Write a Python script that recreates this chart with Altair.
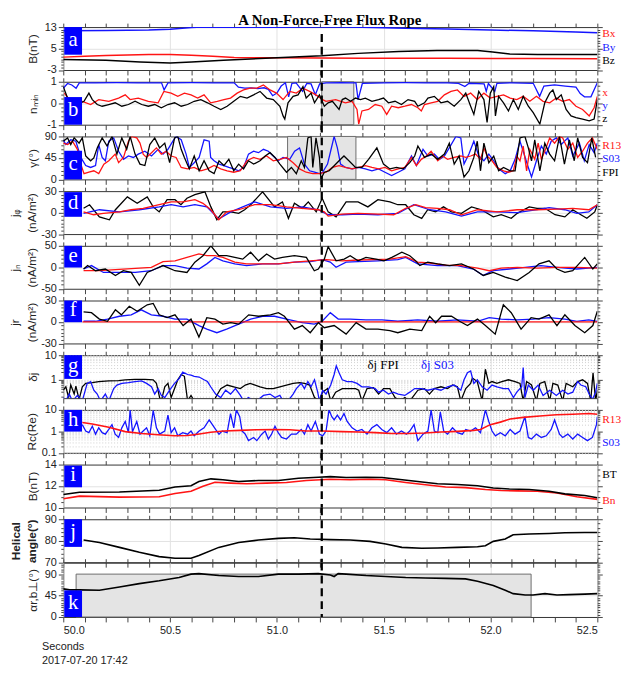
import altair as alt
import pandas as pd

TITLE = "A Non-Force-Free Flux Rope"
DATE_LABEL = "2017-07-20 17:42"
X_TITLE = "Seconds"
XTICKS = [50.0, 50.1, 50.2, 50.3, 50.4, 50.5, 50.6, 50.7, 50.8, 50.9, 51.0, 51.1, 51.2,
          51.3, 51.4, 51.5, 51.6, 51.7, 51.8, 51.9, 52.0, 52.1, 52.2, 52.3, 52.4, 52.5]
X_DOMAIN = [50.0, 52.5]
DASH_T = 51.21

SHADE_B = [(51.21, 51.36, -1, 1)]
SHADE_C = [(51.05, 51.37, 0, 90)]
SHADE_K = [(50.06, 52.19, 0, 90)]

# ---- panel a : B (nT)
A_BX = [(50.0, 1.8), (50.1, 2.1), (50.2, 2.4), (50.3, 2.6), (50.4, 2.8), (50.5, 2.8), (50.6, 2.5),
        (50.7, 2.1), (50.8, 1.7), (50.9, 1.6), (51.0, 1.6), (51.2, 1.5), (51.4, 1.4), (51.6, 1.4),
        (51.8, 1.4), (52.0, 1.3), (52.2, 1.3), (52.5, 1.2)]
A_BY = [(50.0, 11.6), (50.2, 11.7), (50.4, 11.9), (50.5, 12.2), (50.6, 12.8), (50.65, 13.0), (50.8, 12.9),
        (51.0, 12.9), (51.2, 13.0), (51.4, 12.9), (51.6, 12.6), (51.8, 12.3), (52.0, 11.9), (52.2, 11.6),
        (52.4, 11.2), (52.5, 10.9)]
A_BZ = [(50.0, 0.9), (50.2, 0.6), (50.36, 0.0), (50.5, -0.4), (50.6, 0.0), (50.75, 0.6), (51.0, 1.6),
        (51.21, 2.3), (51.38, 3.2), (51.57, 3.9), (51.75, 4.3), (51.94, 4.3), (52.01, 3.7), (52.09, 3.0),
        (52.22, 2.8), (52.5, 2.8)]

# ---- panel b : n_min
B_BLUE = [(50.0, 0.7), (50.02, 0.92), (50.04, 0.85), (50.06, 0.7), (50.075, 0.95), (50.15, 0.95), (50.25, 0.96),
          (50.35, 0.95), (50.46, 0.95), (50.472, 0.62), (50.49, 0.95), (50.6, 0.96), (50.7, 0.95), (50.8, 0.95),
          (50.82, 0.75), (50.85, 0.7), (50.88, 0.72), (50.91, 0.68), (50.94, 0.72), (50.96, 0.65), (50.98, 0.35),
          (51.0, 0.47), (51.02, 0.8), (51.04, 0.95), (51.055, 0.3), (51.07, 0.92), (51.09, 0.95), (51.12, 0.55),
          (51.14, 0.92), (51.16, 0.9), (51.18, 0.4), (51.2, 0.9), (51.23, 0.95), (51.3, 0.96), (51.37, 0.95),
          (51.38, 0.17), (51.4, 0.92), (51.5, 0.95), (51.6, 0.96), (51.7, 0.95), (51.8, 0.95), (51.85, 0.92),
          (51.88, 0.78), (51.9, 0.93), (51.97, 0.9), (51.98, 0.55), (51.99, 0.92), (52.02, 0.55), (52.03, 0.93),
          (52.1, 0.95), (52.2, 0.93), (52.23, 0.32), (52.25, 0.8), (52.3, 0.85), (52.35, 0.8), (52.4, 0.75),
          (52.42, 0.45), (52.44, 0.3), (52.47, 0.3), (52.5, 0.95)]
B_RED = [(50.005, 0.47), (50.028, 0.17), (50.059, 0.02), (50.089, 0.09), (50.128, -0.06), (50.166, 0.17),
         (50.213, 0.09), (50.259, 0.24), (50.29, 0.39), (50.313, 0.17), (50.351, 0.24), (50.398, 0.09),
         (50.444, 0.02), (50.471, 0.55), (50.505, 0.47), (50.536, 0.32), (50.567, 0.47), (50.598, 0.39),
         (50.629, 0.24), (50.659, 0.39), (50.69, 0.02), (50.721, 0.09), (50.752, 0.17), (50.783, 0.24),
         (50.814, 0.47), (50.844, 0.62), (50.875, 0.7), (50.906, 0.7), (50.937, 0.85), (50.968, 0.62),
         (50.998, 0.47), (51.029, 0.17), (51.06, 0.55), (51.091, 0.47), (51.122, 0.7), (51.153, 0.55),
         (51.183, 0.39), (51.214, 0.17), (51.23, 0.09), (51.275, 0.17), (51.321, 0.02), (51.352, 0.09),
         (51.375, -0.29), (51.383, -0.97), (51.398, -0.36), (51.429, -0.29), (51.46, -0.06), (51.491, -0.14),
         (51.514, -0.52), (51.537, -0.14), (51.568, -0.21), (51.599, -0.14), (51.63, -0.06), (51.66, -0.21),
         (51.676, -0.36), (51.691, -0.06), (51.722, 0.02), (51.753, 0.09), (51.784, 0.39), (51.815, 0.55),
         (51.845, 0.62), (51.876, 0.32), (51.907, 0.47), (51.938, 0.17), (51.969, 0.47), (51.999, 0.24),
         (52.03, 0.32), (52.061, 0.39), (52.092, 0.24), (52.123, 0.17), (52.153, 0.32), (52.184, 0.09),
         (52.215, 0.32), (52.246, 0.09), (52.277, 0.02), (52.308, 0.24), (52.338, 0.09), (52.369, 0.17),
         (52.4, -0.14), (52.431, -0.29), (52.462, -0.59), (52.485, -0.21), (52.5, 0.32)]
B_BLACK = [(50.0, 0.77), (50.02, 0.24), (50.035, 0.02), (50.066, -0.06), (50.097, 0.09), (50.12, 0.47),
           (50.136, 0.17), (50.159, -0.06), (50.182, -0.14), (50.213, -0.06), (50.243, 0.02), (50.274, -0.14),
           (50.305, -0.06), (50.336, 0.09), (50.367, -0.06), (50.398, -0.14), (50.428, -0.06), (50.459, -0.21),
           (50.49, -0.06), (50.521, 0.02), (50.552, -0.14), (50.582, -0.06), (50.613, 0.09), (50.644, 0.17),
           (50.675, 0.02), (50.706, -0.14), (50.737, -0.29), (50.767, -0.14), (50.798, 0.09), (50.829, 0.32),
           (50.86, 0.24), (50.891, 0.39), (50.921, 0.55), (50.952, 0.24), (50.983, 0.17), (51.014, -0.14),
           (51.029, -0.59), (51.037, -0.74), (51.052, 0.02), (51.076, 0.32), (51.099, 0.39), (51.122, 0.77),
           (51.137, 0.24), (51.16, 0.47), (51.176, 0.02), (51.199, 0.39), (51.222, -0.14), (51.24, 0.02),
           (51.26, 0.09), (51.291, -0.29), (51.306, 0.17), (51.321, 0.24), (51.345, 0.09), (51.368, 0.24),
           (51.391, 0.17), (51.414, 0.24), (51.445, 0.09), (51.476, 0.17), (51.499, 0.24), (51.522, 0.02),
           (51.553, 0.09), (51.583, -0.06), (51.614, 0.17), (51.645, 0.09), (51.66, -0.14), (51.691, 0.02),
           (51.707, 0.24), (51.737, 0.32), (51.768, 0.02), (51.799, 0.09), (51.83, -0.14), (51.861, 0.17),
           (51.884, 0.47), (51.907, -0.14), (51.922, -0.52), (51.945, 0.55), (51.969, 0.17), (51.984, -0.89),
           (51.999, 0.47), (52.015, 0.77), (52.023, -0.59), (52.038, 0.32), (52.061, 0.02), (52.084, -0.36),
           (52.107, 0.17), (52.13, -0.29), (52.153, 0.32), (52.177, -0.14), (52.2, -0.44), (52.231, -0.97),
           (52.254, 0.02), (52.277, 0.47), (52.292, 0.62), (52.308, 0.17), (52.331, 0.39), (52.354, -0.29),
           (52.377, -0.59), (52.4, -0.67), (52.431, -0.74), (52.462, -0.82), (52.485, -0.74), (52.5, 0.17)]

# ---- panel c : gamma (deg)
C_BLACK = [(50.0, 80), (50.02, 87), (50.035, 73), (50.051, 87), (50.074, 76), (50.089, 87), (50.105, 49),
           (50.128, 39), (50.143, 45), (50.159, 66), (50.182, 87), (50.205, 70), (50.228, 90), (50.251, 53),
           (50.274, 87), (50.297, 63), (50.313, 90), (50.336, 53), (50.359, 32), (50.382, 29), (50.405, 73),
           (50.428, 87), (50.451, 66), (50.475, 76), (50.498, 35), (50.521, 87), (50.536, 90), (50.552, 63),
           (50.567, 46), (50.59, 22), (50.613, 49), (50.636, 18), (50.659, 39), (50.683, 18), (50.706, 12),
           (50.729, 39), (50.752, 29), (50.775, 42), (50.798, 18), (50.821, 32), (50.844, 22), (50.867, 39),
           (50.891, 32), (50.921, 39), (50.945, 49), (50.968, 56), (50.991, 46), (51.014, 32), (51.045, 15),
           (51.068, 25), (51.091, 12), (51.114, 39), (51.129, 25), (51.145, 87), (51.16, 90), (51.168, 25),
           (51.183, 87), (51.199, 46), (51.206, 1), (51.222, 15), (51.245, 18), (51.26, 25), (51.291, 39),
           (51.314, 49), (51.337, 39), (51.368, 25), (51.398, 25), (51.429, 42), (51.468, 66), (51.499, 32),
           (51.529, 22), (51.56, 25), (51.591, 22), (51.622, 35), (51.645, 49), (51.66, 70), (51.691, 46),
           (51.722, 53), (51.753, 42), (51.784, 53), (51.807, 76), (51.83, 32), (51.853, 49), (51.876, 5),
           (51.899, 18), (51.922, 46), (51.938, 80), (51.953, 18), (51.969, 76), (51.992, 35), (52.015, 49),
           (52.038, 18), (52.061, 25), (52.092, 18), (52.115, 18), (52.138, 87), (52.161, 90), (52.177, 66),
           (52.192, 39), (52.207, 83), (52.231, 18), (52.254, 76), (52.277, 53), (52.3, 39), (52.323, 90),
           (52.346, 32), (52.369, 83), (52.392, 39), (52.408, 87), (52.431, 46), (52.454, 35), (52.474, 87),
           (52.492, 46)]
C_RED = [(50.0, 76), (50.02, 73), (50.043, 80), (50.066, 63), (50.082, 32), (50.097, 12), (50.12, 15),
         (50.143, 18), (50.166, 12), (50.19, 32), (50.213, 39), (50.243, 53), (50.259, 35), (50.282, 46),
         (50.305, 80), (50.32, 90), (50.344, 87), (50.359, 76), (50.374, 53), (50.39, 46), (50.413, 56),
         (50.436, 66), (50.459, 53), (50.482, 59), (50.505, 49), (50.528, 46), (50.552, 25), (50.582, 22),
         (50.613, 25), (50.644, 18), (50.675, 22), (50.706, 29), (50.737, 22), (50.767, 18), (50.798, 15),
         (50.829, 18), (50.86, 39), (50.891, 46), (50.921, 42), (50.952, 49), (50.983, 39), (51.014, 42),
         (51.045, 46), (51.076, 35), (51.106, 22), (51.137, 15), (51.168, 12), (51.199, 12), (51.23, 15),
         (51.26, 25), (51.291, 29), (51.321, 25), (51.352, 22), (51.383, 25), (51.414, 29), (51.445, 25),
         (51.476, 22), (51.506, 25), (51.537, 18), (51.568, 22), (51.599, 25), (51.63, 46), (51.653, 29),
         (51.676, 42), (51.699, 49), (51.722, 59), (51.753, 39), (51.776, 49), (51.799, 42), (51.83, 46),
         (51.861, 49), (51.884, 46), (51.907, 49), (51.93, 53), (51.953, 42), (51.969, 66), (51.984, 49),
         (52.007, 39), (52.03, 25), (52.061, 18), (52.084, 15), (52.107, 18), (52.123, 49), (52.138, 39),
         (52.153, 70), (52.169, 18), (52.184, 63), (52.207, 42), (52.223, 76), (52.238, 42), (52.254, 59),
         (52.277, 87), (52.3, 76), (52.323, 90), (52.338, 87), (52.362, 63), (52.385, 76), (52.408, 46),
         (52.431, 59), (52.454, 76), (52.477, 87), (52.5, 63)]
C_BLUE = [(50.0, 83), (50.012, 73), (50.035, 83), (50.059, 80), (50.082, 46), (50.105, 29), (50.128, 25),
          (50.151, 29), (50.166, 73), (50.182, 46), (50.197, 39), (50.213, 80), (50.236, 87), (50.259, 59),
          (50.282, 42), (50.305, 49), (50.328, 46), (50.351, 53), (50.382, 59), (50.413, 49), (50.444, 63),
          (50.467, 53), (50.49, 63), (50.513, 80), (50.528, 90), (50.552, 83), (50.575, 53), (50.59, 25),
          (50.613, 35), (50.636, 46), (50.659, 83), (50.683, 80), (50.69, 46), (50.706, 39), (50.729, 32),
          (50.752, 29), (50.775, 25), (50.798, 22), (50.821, 18), (50.844, 25), (50.867, 53), (50.891, 59),
          (50.914, 56), (50.937, 63), (50.96, 59), (50.983, 49), (51.006, 39), (51.029, 46), (51.06, 42),
          (51.083, 59), (51.106, 66), (51.129, 32), (51.153, 18), (51.176, 15), (51.199, 12), (51.214, 15),
          (51.237, 32), (51.252, 60), (51.268, 90), (51.283, 66), (51.298, 32), (51.321, 25), (51.352, 22),
          (51.383, 25), (51.414, 22), (51.445, 18), (51.476, 22), (51.506, 15), (51.537, 8), (51.568, 15),
          (51.599, 22), (51.63, 49), (51.653, 29), (51.684, 63), (51.707, 49), (51.737, 53), (51.761, 42),
          (51.784, 49), (51.807, 66), (51.838, 90), (51.861, 87), (51.876, 32), (51.899, 53), (51.922, 80),
          (51.945, 49), (51.969, 39), (51.992, 53), (52.015, 39), (52.038, 22), (52.069, 12), (52.092, 18),
          (52.115, 42), (52.138, 80), (52.153, 59), (52.177, 25), (52.192, 5), (52.215, 39), (52.238, 70),
          (52.261, 53), (52.284, 80), (52.308, 87), (52.331, 73), (52.362, 87), (52.385, 49), (52.416, 76),
          (52.439, 39), (52.462, 73), (52.485, 56), (52.5, 76)]

# ---- panel d : j_phi
D_BLACK = [(50.095, 6), (50.123, 11), (50.169, -6), (50.216, -10), (50.244, 4), (50.3, 22), (50.346, 13),
           (50.393, 22), (50.421, 8), (50.449, 1), (50.486, 18), (50.523, 18), (50.551, 11), (50.579, 20),
           (50.616, 25), (50.663, 29), (50.691, 8), (50.719, -10), (50.747, 1), (50.784, 1), (50.821, -1),
           (50.849, 4), (50.877, 11), (50.933, 29), (50.989, 8), (51.026, 15), (51.054, -8), (51.082, 13),
           (51.119, 6), (51.147, 15), (51.184, 1), (51.212, 20), (51.24, 1), (51.277, -6), (51.324, 15),
           (51.38, 15), (51.426, 8), (51.473, 18), (51.529, 15), (51.566, 11), (51.603, 11), (51.641, -3),
           (51.678, -8), (51.706, 4), (51.743, 1), (51.78, 8), (51.817, 1), (51.864, -1), (51.911, 8),
           (51.957, 4), (52.013, -6), (52.05, -3), (52.097, -8), (52.125, -1), (52.181, 8), (52.218, 6),
           (52.255, 6), (52.302, -3), (52.348, -6), (52.385, 4), (52.423, -3), (52.451, -8), (52.488, 1),
           (52.5, 11)]
D_RED = [(50.095, 1), (50.142, -3), (50.188, -1), (50.263, 1), (50.318, 4), (50.374, 6), (50.449, 11),
         (50.505, 15), (50.561, 15), (50.616, 18), (50.654, 13), (50.691, 4), (50.728, -10), (50.765, 1),
         (50.821, 4), (50.896, 11), (50.97, 11), (51.045, 8), (51.119, 6), (51.194, 4), (51.222, 1),
         (51.24, -5), (51.305, -2), (51.38, -1), (51.473, -2), (51.547, -3), (51.603, 6), (51.65, 11),
         (51.696, 7), (51.752, 6), (51.808, 4), (51.864, -3), (51.939, 4), (52.032, 1), (52.125, 4),
         (52.218, 4), (52.311, 5), (52.385, 6), (52.46, 4), (52.5, 11)]
D_BLUE = [(50.095, -1), (50.169, 4), (50.263, 1), (50.356, 4), (50.449, 8), (50.505, 11), (50.561, 8),
          (50.616, 11), (50.672, 8), (50.728, -9), (50.784, 1), (50.896, 15), (50.97, 8), (51.045, 6),
          (51.119, 8), (51.194, 4), (51.24, -3), (51.305, -3), (51.38, -2), (51.473, -3), (51.566, -1),
          (51.641, 11), (51.715, 4), (51.79, 1), (51.864, -5), (51.939, 1), (52.032, 1), (52.125, 0),
          (52.218, 4), (52.274, 7), (52.348, 4), (52.404, -1), (52.46, 1), (52.5, 11)]

# ---- panel e : j_n
E_BLACK = [(50.095, -4), (50.114, 4), (50.151, -8), (50.197, -4), (50.244, -19), (50.281, -8), (50.318, -12),
           (50.356, -42), (50.393, -12), (50.43, -4), (50.467, 4), (50.523, -8), (50.579, -12), (50.616, 12),
           (50.654, 27), (50.691, 50), (50.728, 27), (50.765, 27), (50.803, 23), (50.84, 19), (50.877, 35),
           (50.914, 15), (50.952, 31), (50.989, 19), (51.026, 23), (51.082, 27), (51.138, 23), (51.175, -8),
           (51.194, -4), (51.222, 19), (51.24, 48), (51.277, 15), (51.315, 19), (51.343, 27), (51.38, 15),
           (51.417, 23), (51.464, 19), (51.501, 15), (51.538, 23), (51.585, 35), (51.622, 27), (51.65, 15),
           (51.669, 4), (51.706, 12), (51.752, 8), (51.808, 4), (51.864, 8), (51.92, -4), (51.966, -19),
           (52.013, -12), (52.069, -23), (52.125, -31), (52.181, -12), (52.227, 8), (52.274, 15), (52.311, -4),
           (52.348, -12), (52.385, -8), (52.441, 23), (52.479, -4), (52.5, 8)]
E_RED = [(50.095, -8), (50.169, -8), (50.263, -5), (50.356, -2), (50.412, 0), (50.467, 13), (50.523, 15),
         (50.579, 23), (50.635, 31), (50.672, 27), (50.71, 27), (50.747, 23), (50.803, 12), (50.858, 8),
         (50.933, 8), (51.007, 8), (51.082, 12), (51.156, 15), (51.231, 18), (51.305, 15), (51.38, 17),
         (51.454, 18), (51.529, 19), (51.603, 25), (51.659, 12), (51.715, 10), (51.79, 5), (51.864, 4),
         (51.939, -2), (51.994, -8), (52.05, -2), (52.125, 0), (52.218, -2), (52.311, 0), (52.404, 0),
         (52.5, -2)]
E_BLUE = [(50.095, -4), (50.132, 4), (50.188, -12), (50.263, -12), (50.337, -12), (50.412, -8), (50.467, 4),
          (50.523, 4), (50.579, -2), (50.635, -4), (50.672, 8), (50.71, 23), (50.747, 15), (50.803, 8),
          (50.858, 4), (50.933, 8), (51.007, 8), (51.082, 12), (51.156, 13), (51.212, 18), (51.25, 12),
          (51.277, 0), (51.324, 12), (51.38, 13), (51.473, 15), (51.566, 18), (51.603, 23), (51.659, 8),
          (51.752, 4), (51.845, 4), (51.92, -4), (51.966, -19), (52.013, -8), (52.088, -4), (52.162, 0),
          (52.236, 4), (52.311, 0), (52.404, -4), (52.5, 0)]

# ---- panel f : j_r
F_BLACK = [(50.095, 14), (50.132, 13), (50.169, 4), (50.207, 1), (50.244, 17), (50.272, 10), (50.309, 22),
           (50.346, 15), (50.393, 24), (50.421, 26), (50.449, 10), (50.486, 6), (50.523, 10), (50.561, -5),
           (50.598, 4), (50.635, -21), (50.672, 6), (50.71, 4), (50.747, -3), (50.784, -1), (50.821, -3),
           (50.868, 10), (50.914, 8), (50.97, 10), (51.007, 13), (51.035, 8), (51.082, -10), (51.119, -5),
           (51.156, -15), (51.194, -1), (51.222, -8), (51.268, -5), (51.324, -17), (51.371, -1), (51.417, -10),
           (51.473, -10), (51.529, -12), (51.566, -15), (51.622, -10), (51.678, -12), (51.715, 8), (51.743, -1),
           (51.771, 8), (51.817, 8), (51.855, 1), (51.892, -5), (51.939, 4), (51.976, -5), (52.022, -17),
           (52.06, 24), (52.097, 13), (52.143, -10), (52.19, 6), (52.227, 4), (52.274, 10), (52.311, -5),
           (52.348, 10), (52.395, -5), (52.441, -15), (52.479, -5), (52.5, 15)]
F_BLUE = [(50.095, 1), (50.151, 1), (50.207, 4), (50.263, 8), (50.318, 10), (50.365, 17), (50.412, 10),
          (50.467, 8), (50.523, 4), (50.579, 4), (50.635, -5), (50.672, -10), (50.719, -15), (50.765, -10),
          (50.821, -3), (50.877, 4), (50.933, 8), (50.989, 8), (51.045, 4), (51.119, -1), (51.175, -3),
          (51.212, 1), (51.25, 13), (51.287, 4), (51.343, 4), (51.417, 3), (51.492, 3), (51.566, 1),
          (51.659, 3), (51.752, 1), (51.845, 3), (51.939, 1), (51.994, 6), (52.05, 4), (52.125, 3),
          (52.199, 4), (52.274, 6), (52.348, 4), (52.404, 1), (52.46, 3), (52.5, 1)]
F_RED = [(50.09, 0), (52.5, 0)]

# ---- panel g : delta j (log)
G_BLACK = [(50.0, 0.36), (50.012, 0.5), (50.025, 0.18), (50.035, 0.59), (50.051, 0.25), (50.059, 0.53),
           (50.074, 0.15), (50.089, 0.5), (50.105, 0.69), (50.136, 0.74), (50.166, 0.82), (50.213, 0.87),
           (50.259, 0.9), (50.29, 0.97), (50.336, 1.0), (50.382, 1.0), (50.421, 0.97), (50.436, 0.69),
           (50.451, 0.18), (50.459, 0.13), (50.475, 0.5), (50.49, 0.69), (50.505, 0.18), (50.521, 0.42),
           (50.536, 0.97), (50.552, 1.6), (50.567, 1.35), (50.582, 0.13), (50.598, 0.22), (50.613, 0.13),
           (50.629, 0.1), (50.706, 0.1), (50.713, 0.18), (50.737, 0.42), (50.767, 0.59), (50.798, 0.5),
           (50.829, 0.42), (50.852, 0.59), (50.875, 0.69), (50.898, 0.59), (50.921, 0.5), (50.952, 0.42),
           (50.983, 0.42), (51.014, 0.5), (51.045, 0.59), (51.076, 0.69), (51.106, 0.74), (51.129, 0.69),
           (51.153, 0.59), (51.176, 0.18), (51.199, 0.13), (51.214, 0.3), (51.237, 0.42), (51.252, 0.13),
           (51.275, 0.3), (51.306, 0.42), (51.337, 0.42), (51.368, 0.42), (51.383, 0.36), (51.398, 0.13),
           (51.422, 0.42), (51.452, 0.46), (51.476, 0.25), (51.499, 0.42), (51.529, 0.42), (51.553, 0.18),
           (51.576, 0.13), (51.599, 0.18), (51.622, 0.13), (51.66, 0.36), (51.691, 0.42), (51.714, 0.25),
           (51.737, 0.42), (51.768, 0.5), (51.799, 0.42), (51.822, 0.59), (51.845, 0.5), (51.861, 0.13),
           (51.884, 0.42), (51.907, 0.69), (51.915, 1.14), (51.938, 0.82), (51.961, 0.13), (51.976, 2.63),
           (51.992, 0.69), (52.007, 0.82), (52.03, 0.69), (52.053, 0.82), (52.084, 0.97), (52.115, 0.82),
           (52.138, 0.69), (52.153, 0.13), (52.169, 0.82), (52.192, 0.59), (52.215, 0.13), (52.231, 0.69),
           (52.254, 0.82), (52.277, 0.13), (52.292, 0.69), (52.315, 0.59), (52.338, 0.13), (52.354, 0.69),
           (52.385, 0.5), (52.408, 0.82), (52.431, 0.97), (52.454, 0.69), (52.469, 0.13), (52.48, 1.89),
           (52.492, 0.13), (52.5, 0.36)]
G_BLUE = [(50.0, 0.18), (50.012, 0.13), (50.028, 0.25), (50.043, 0.13), (50.066, 0.22), (50.089, 0.13),
          (50.112, 0.69), (50.128, 0.82), (50.143, 0.36), (50.159, 0.25), (50.174, 0.13), (50.197, 0.25),
          (50.213, 0.13), (50.236, 0.42), (50.251, 0.59), (50.274, 0.69), (50.305, 0.74), (50.336, 0.82),
          (50.367, 0.87), (50.39, 0.69), (50.413, 0.5), (50.428, 0.25), (50.444, 0.42), (50.459, 0.22),
          (50.475, 0.18), (50.498, 0.36), (50.521, 0.69), (50.544, 1.14), (50.559, 2.0), (50.582, 1.6),
          (50.598, 1.5), (50.613, 1.35), (50.636, 1.26), (50.659, 0.97), (50.675, 0.82), (50.69, 0.5),
          (50.713, 0.25), (50.737, 0.18), (50.76, 0.36), (50.783, 0.25), (50.806, 0.42), (50.829, 0.22),
          (50.844, 0.13), (50.867, 0.18), (50.891, 0.13), (50.914, 0.15), (50.937, 0.22), (50.968, 0.25),
          (50.991, 0.18), (51.014, 0.22), (51.029, 0.13), (51.052, 0.13), (51.076, 0.25), (51.091, 0.42),
          (51.114, 0.69), (51.129, 0.42), (51.145, 0.82), (51.16, 0.5), (51.176, 0.97), (51.191, 0.3),
          (51.199, 0.13), (51.214, 0.36), (51.23, 0.25), (51.252, 0.59), (51.268, 1.6), (51.278, 3.67),
          (51.291, 1.89), (51.306, 0.97), (51.329, 0.82), (51.352, 0.82), (51.375, 0.69), (51.398, 0.5),
          (51.429, 0.5), (51.46, 0.42), (51.476, 0.3), (51.499, 0.36), (51.522, 0.25), (51.545, 0.3),
          (51.568, 0.25), (51.599, 0.22), (51.622, 0.3), (51.645, 0.42), (51.676, 0.42), (51.707, 0.36),
          (51.737, 0.42), (51.768, 0.36), (51.799, 0.5), (51.83, 0.59), (51.861, 0.36), (51.876, 0.97),
          (51.892, 1.89), (51.907, 2.23), (51.922, 0.69), (51.938, 0.97), (51.961, 0.5), (51.984, 0.36),
          (52.007, 0.59), (52.03, 0.5), (52.061, 0.42), (52.084, 0.42), (52.107, 0.18), (52.123, 0.3),
          (52.146, 0.5), (52.153, 3.1), (52.161, 0.18), (52.177, 0.59), (52.2, 0.36), (52.223, 0.59),
          (52.246, 0.22), (52.277, 0.36), (52.308, 0.22), (52.338, 0.36), (52.362, 0.25), (52.385, 0.3),
          (52.408, 0.82), (52.423, 0.59), (52.446, 0.5), (52.462, 0.25), (52.477, 0.15), (52.492, 0.3),
          (52.5, 0.69)]

# ---- panel h : Rc (log)
H_RED = [(50.089, 2.6), (50.136, 2.19), (50.213, 1.56), (50.29, 0.97), (50.367, 0.79), (50.444, 0.69),
         (50.521, 0.62), (50.582, 0.64), (50.629, 0.74), (50.69, 0.9), (50.752, 1.03), (50.829, 1.11),
         (50.906, 1.19), (50.983, 1.23), (51.06, 1.19), (51.137, 1.03), (51.214, 1.03), (51.306, 0.97),
         (51.383, 0.93), (51.46, 0.87), (51.537, 0.79), (51.614, 0.79), (51.691, 0.84), (51.768, 0.93),
         (51.845, 1.0), (51.922, 1.11), (51.953, 1.23), (51.999, 2.05), (52.046, 2.69), (52.092, 3.78),
         (52.153, 4.49), (52.231, 5.15), (52.308, 5.9), (52.385, 6.3), (52.462, 6.75), (52.5, 6.3)]
H_BLUE = [(50.089, 2.05), (50.105, 1.03), (50.12, 0.87), (50.136, 1.73), (50.151, 0.74), (50.166, 1.46),
          (50.182, 0.87), (50.197, 0.74), (50.213, 1.23), (50.228, 2.05), (50.243, 0.74), (50.259, 0.52),
          (50.274, 1.46), (50.29, 2.88), (50.305, 0.87), (50.313, 10.0), (50.324, 0.97), (50.344, 2.88),
          (50.359, 0.74), (50.374, 1.03), (50.39, 1.46), (50.405, 0.62), (50.421, 9.5), (50.436, 1.46),
          (50.451, 0.74), (50.475, 1.03), (50.49, 5.7), (50.505, 0.87), (50.521, 1.46), (50.536, 0.62),
          (50.559, 0.87), (50.582, 0.74), (50.598, 1.03), (50.613, 0.62), (50.636, 1.03), (50.659, 1.46),
          (50.683, 3.4), (50.698, 2.05), (50.713, 1.23), (50.729, 0.74), (50.744, 1.03), (50.767, 0.87),
          (50.783, 6.75), (50.798, 1.46), (50.81, 10.0), (50.826, 4.8), (50.837, 1.03), (50.852, 0.74),
          (50.867, 0.37), (50.891, 0.52), (50.906, 0.37), (50.929, 0.74), (50.945, 1.03), (50.96, 0.44),
          (50.975, 0.74), (50.991, 1.73), (51.006, 0.87), (51.022, 0.52), (51.045, 0.44), (51.068, 0.74),
          (51.091, 0.74), (51.114, 1.23), (51.129, 0.74), (51.145, 2.05), (51.16, 1.03), (51.18, 2.88),
          (51.199, 0.74), (51.214, 0.62), (51.23, 1.03), (51.244, 10.0), (51.257, 4.8), (51.268, 3.4),
          (51.283, 5.7), (51.298, 3.4), (51.314, 6.75), (51.329, 2.88), (51.352, 1.46), (51.375, 1.03),
          (51.398, 1.23), (51.422, 0.74), (51.445, 1.46), (51.468, 2.05), (51.491, 1.23), (51.514, 0.87),
          (51.537, 1.46), (51.56, 0.74), (51.583, 1.03), (51.606, 0.74), (51.622, 1.03), (51.642, 2.05),
          (51.66, 0.37), (51.684, 0.74), (51.707, 1.03), (51.722, 10.0), (51.737, 1.03), (51.753, 0.87),
          (51.765, 8.0), (51.781, 1.03), (51.799, 0.74), (51.822, 1.46), (51.845, 0.87), (51.868, 0.74),
          (51.884, 1.23), (51.907, 1.03), (51.93, 1.46), (51.953, 0.87), (51.976, 10.0), (51.992, 2.88),
          (52.007, 1.03), (52.023, 0.62), (52.046, 0.87), (52.069, 0.62), (52.092, 1.23), (52.115, 0.74),
          (52.138, 1.03), (52.161, 4.8), (52.177, 0.52), (52.192, 0.44), (52.215, 0.74), (52.238, 0.52),
          (52.261, 0.62), (52.284, 1.23), (52.3, 3.4), (52.323, 0.74), (52.338, 0.52), (52.362, 0.74),
          (52.385, 0.44), (52.408, 0.74), (52.431, 0.52), (52.454, 0.37), (52.477, 0.52), (52.496, 2.05),
          (52.5, 4.8)]

# ---- panel i : B (nT)
I_BT = [(50.0, 11.21), (50.076, 11.42), (50.263, 11.45), (50.449, 11.61), (50.523, 11.91), (50.598, 12.03),
        (50.635, 12.42), (50.691, 12.67), (50.747, 12.58), (50.821, 12.42), (50.914, 12.52), (51.007, 12.52),
        (51.101, 12.73), (51.194, 12.82), (51.25, 12.88), (51.324, 12.79), (51.417, 12.82), (51.492, 12.79),
        (51.566, 12.64), (51.659, 12.42), (51.752, 12.21), (51.845, 12.15), (51.939, 12.03), (52.013, 11.82),
        (52.088, 11.73), (52.181, 11.67), (52.274, 11.52), (52.348, 11.27), (52.441, 11.12), (52.5, 10.91)]
I_BN = [(50.0, 10.82), (50.076, 11.06), (50.263, 10.97), (50.449, 11.0), (50.523, 11.3), (50.598, 11.52),
        (50.654, 11.97), (50.71, 12.36), (50.784, 12.27), (50.858, 12.21), (50.952, 12.27), (51.045, 12.33),
        (51.138, 12.52), (51.25, 12.64), (51.343, 12.58), (51.436, 12.64), (51.51, 12.58), (51.603, 12.33),
        (51.696, 12.12), (51.79, 11.91), (51.883, 11.85), (51.976, 11.67), (52.05, 11.58), (52.125, 11.55),
        (52.218, 11.52), (52.311, 11.36), (52.404, 11.0), (52.5, 10.76)]

# ---- panel j : helical angle
J_ANGLE = [(50.095, 80.3), (50.169, 79.2), (50.263, 76.9), (50.356, 74.6), (50.449, 72.6), (50.523, 71.8),
           (50.598, 71.8), (50.635, 73.1), (50.728, 76.9), (50.821, 79.2), (50.914, 80.3), (51.007, 81.1),
           (51.082, 81.4), (51.156, 80.8), (51.25, 80.5), (51.343, 80.3), (51.436, 79.7), (51.51, 78.5),
           (51.585, 76.9), (51.678, 76.5), (51.752, 76.6), (51.845, 76.9), (51.939, 77.2), (51.976, 77.7),
           (52.013, 79.7), (52.069, 80.8), (52.106, 82.8), (52.181, 83.1), (52.274, 83.4), (52.348, 83.7),
           (52.441, 83.8), (52.5, 83.8)]

# ---- panel k : alpha_{r,b_perp}
K_ALPHA = [(50.0, 59), (50.03, 57), (50.076, 57), (50.169, 56), (50.263, 63), (50.356, 70), (50.449, 76),
           (50.542, 83), (50.598, 90), (50.635, 91), (50.728, 87), (50.821, 85), (50.914, 85), (51.007, 90),
           (51.101, 90), (51.194, 91), (51.25, 88), (51.268, 85), (51.287, 91), (51.324, 90), (51.417, 87),
           (51.51, 85), (51.603, 83), (51.696, 82), (51.79, 81), (51.883, 80), (51.939, 75), (52.013, 66),
           (52.069, 56), (52.106, 49), (52.162, 46), (52.199, 46), (52.255, 49), (52.311, 46), (52.367, 47),
           (52.441, 48), (52.5, 49)]

RED = "#ff1414"
BLUE = "#1414ff"
BLACK = "#000000"
W = 541
H = 43.5
HK = 55
SERIF = "Liberation Serif"
SANS = "Liberation Sans"
HALF_TEST = "abs(datum.value*2 - round(datum.value*2)) < 0.001"
XLABEL_EXPR = "abs(datum.value*2 - round(datum.value*2)) < 0.001 ? format(datum.value, '.1f') : ''"

dummy = pd.DataFrame({"k": [0]})


def cond(vals, a, b):
    return {"condition": {"test": f"indexof({list(vals)}, datum.value) >= 0", "value": a}, "value": b}


def panel(letter, series, ydom, yvals, ymajor, ygrid, ytitle, title_x, box, h=H, ytype="linear",
          last=False, shade=None, legends=(), dash_top=-12, extra=(), title_bold=False, log_grid=False,
          title_lh=17):
    xs = alt.Scale(domain=X_DOMAIN, nice=False, zero=False)
    if ytype == "log":
        ys = alt.Scale(domain=ydom, type="log", nice=False)
    else:
        ys = alt.Scale(domain=ydom, nice=False, zero=False)

    xkw = dict(values=XTICKS, labels=last, labelExpr=XLABEL_EXPR, tickSize=5, grid=True,
               gridColor="#e2e2e2", gridOpacity={"condition": {"test": HALF_TEST, "value": 1}, "value": 0},
               domain=False, labelPadding=3, labelFontSize=11)
    if last:
        xkw.update(title=[X_TITLE, DATE_LABEL], titleAnchor="start", titleAlign="left", titleX=-22,
                   titleY=24, titleBaseline="top", titleLineHeight=14.5, titleFontSize=11,
                   titleFontWeight="normal")
    else:
        xkw.update(title=None)
    xaxis = alt.Axis(**xkw)

    ykw = dict(values=yvals,
               labelExpr=f"indexof({list(ymajor)}, datum.value) >= 0 ? toString(datum.value) : ''",
               tickSize=cond(ymajor, 5, 2.5), grid=True, domain=False, title=ytitle, titleX=title_x,
               titleBaseline="middle", titleLineHeight=title_lh, labelPadding=2,
               titleFontWeight=("bold" if title_bold else "normal"))
    if log_grid:
        ykw.update(gridColor="#cfcfcf", gridDash=[1, 2], gridOpacity=1)
    else:
        ykw.update(gridColor="#e2e2e2", gridOpacity=cond(ygrid, 1, 0))
    yaxis = alt.Axis(**ykw)

    layers = []
    if shade:
        sdf = pd.DataFrame(shade, columns=["x0", "x1", "y0", "y1"])
        layers.append(alt.Chart(sdf).mark_rect(fill="#e4e4e4", stroke="#6e6e6e", strokeWidth=1).encode(
            x=alt.X("x0:Q", scale=xs, axis=xaxis), x2="x1:Q",
            y=alt.Y("y0:Q", scale=ys, axis=yaxis), y2="y1:Q"))
    for (pairs, color, sw) in series:
        df = pd.DataFrame(pairs, columns=["t", "v"])
        layers.append(alt.Chart(df).mark_line(color=color, strokeWidth=sw, clip=True).encode(
            x=alt.X("t:Q", scale=xs, axis=xaxis),
            y=alt.Y("v:Q", scale=ys, axis=yaxis)))
    layers.append(alt.Chart(dummy).mark_rule(color="black", strokeWidth=2.3, strokeDash=[8, 5]).encode(
        x=alt.X(datum=DASH_T, type="quantitative", scale=xs, axis=xaxis),
        y=alt.value(dash_top), y2=alt.value(h)))
    layers.append(alt.Chart(dummy).mark_rect(color="#0000ff").encode(
        x=alt.value(1), x2=alt.value(19), y=alt.value(box[0]), y2=alt.value(box[1])))
    layers.append(alt.Chart(dummy).mark_text(text=letter, color="white", font=SERIF, fontSize=21,
                                             align="center", baseline="middle").encode(
        x=alt.value(10), y=alt.value((box[0] + box[1]) / 2 - 1)))
    for (txt, color, yy) in legends:
        layers.append(alt.Chart(dummy).mark_text(text=txt, color=color, font=SERIF, fontSize=11.5,
                                                 align="left", baseline="middle").encode(
            x=alt.value(546), y=alt.value(yy)))
    for (txt, color, xx, yy, size, weight) in extra:
        layers.append(alt.Chart(dummy).mark_text(text=txt, color=color, font=SERIF, fontSize=size,
                                                 fontWeight=weight, align="center",
                                                 baseline="alphabetic").encode(
            x=alt.value(xx), y=alt.value(yy)))

    adf = pd.DataFrame({"t": X_DOMAIN, "v": ydom})
    side = alt.Chart(adf).mark_point(opacity=0).encode(
        x=alt.X("t:Q", scale=xs, axis=alt.Axis(orient="top", values=XTICKS, labels=False, tickSize=4,
                                               grid=False, domain=False, title=None, minExtent=0)),
        y=alt.Y("v:Q", scale=ys, axis=alt.Axis(orient="right", values=yvals, labels=False,
                                               tickSize=cond(ymajor, 5, 2.5), grid=False, domain=False,
                                               title=None, minExtent=0)))
    return alt.layer(alt.layer(*layers), side).resolve_scale(x="independent", y="independent").properties(
        width=W, height=h)


pa = panel("a", [(A_BX, RED, 1.5), (A_BY, BLUE, 1.5), (A_BZ, BLACK, 1.5)],
           [-3, 13], list(range(-3, 14)), [-3, 5, 13], [5], "B(nT)", -31, (0, 28),
           legends=[("Bx", RED, 7), ("By", BLUE, 21), ("Bz", BLACK, 34)], dash_top=7,
           extra=[(TITLE, BLACK, 270, -2, 15, "bold")])
pb = panel("b", [(B_BLUE, BLUE, 1.3), (B_RED, RED, 1.3), (B_BLACK, BLACK, 1.3)],
           [-1, 1], [-1, -0.8, -0.6, -0.4, -0.2, 0, 0.2, 0.4, 0.6, 0.8, 1], [-1, 0, 1], [0],
           "n\u2098\u1d62\u2099", -31, (H - 28, H), shade=SHADE_B,
           legends=[("x", RED, 11), ("y", BLUE, 25), ("z", BLACK, 38)])
pc = panel("c", [(C_BLUE, BLUE, 1.3), (C_RED, RED, 1.3), (C_BLACK, BLACK, 1.3)],
           [0, 90], [0, 9, 18, 27, 36, 45, 54, 63, 72, 81, 90], [0, 45, 90], [45],
           "\u03b3(\u00b0)", -31, (H - 29, H), shade=SHADE_C,
           legends=[("R13", RED, 10), ("S03", BLUE, 23), ("FPI", BLACK, 37)])
pd_ = panel("d", [(D_BLACK, BLACK, 1.3), (D_BLUE, BLUE, 1.3), (D_RED, RED, 1.3)],
            [-30, 30], list(range(-30, 31, 5)), [-30, 0, 30], [0],
            ["j\u1d69", "(nA/m\u00b2)"], -49.5, (1, 26))
pe = panel("e", [(E_BLUE, BLUE, 1.3), (E_RED, RED, 1.3), (E_BLACK, BLACK, 1.3)],
           [-50, 50], list(range(-50, 51, 10)), [-50, 0, 50], [0],
           ["j\u2099", "(nA/m\u00b2)"], -49.5, (0, 22))
pf = panel("f", [(F_BLUE, BLUE, 1.3), (F_RED, RED, 1.3), (F_BLACK, BLACK, 1.3)],
           [-30, 30], list(range(-30, 31, 5)), [-30, 0, 30], [0],
           ["jr", "(nA/m\u00b2)"], -49.5, (0, 22))
pg = panel("g", [(G_BLACK, BLACK, 1.3), (G_BLUE, BLUE, 1.3)],
           [0.17, 10], [0.2, 0.3, 0.4, 0.5, 0.6, 0.7, 0.8, 0.9, 1, 2, 3, 4, 5, 6, 7, 8, 9, 10], [1, 10], [],
           "\u03b4j", -31, (0, 24), ytype="log", log_grid=True,
           extra=[("\u03b4j FPI", BLACK, 324, 14, 13, "normal"), ("\u03b4j S03", BLUE, 379, 14, 13, "normal")])
ph = panel("h", [(H_BLUE, BLUE, 1.3), (H_RED, RED, 1.6)],
           [0.1, 10], [0.1, 0.2, 0.3, 0.4, 0.5, 0.6, 0.7, 0.8, 0.9, 1, 2, 3, 4, 5, 6, 7, 8, 9, 10],
           [0.1, 1, 10], [], "Rc(Re)", -32, (0, 22), ytype="log", log_grid=True,
           legends=[("R13", RED, 10), ("S03", BLUE, 34)])
pi = panel("i", [(I_BN, RED, 1.6), (I_BT, BLACK, 1.6)],
           [10, 14], [10, 10.5, 11, 11.5, 12, 12.5, 13, 13.5, 14], [10, 12, 14], [12],
           "B(nT)", -31, (1, 23), legends=[("BT", BLACK, 11), ("Bn", RED, 37)])
pj = panel("j", [(J_ANGLE, BLACK, 1.6)],
           [70, 90], list(range(70, 91, 2)), [70, 80, 90], [80],
           ["Helical", "angle(\u00b0)"], -48, (0, 28), title_bold=True, title_lh=16)
pk = panel("k", [(K_ALPHA, BLACK, 1.6)],
           [0, 114], list(range(0, 111, 5)), [0, 45, 90], [45],
           "\u03b1r,b\u22a5(\u00b0)", -31, (HK - 27, HK), h=HK, last=True, shade=SHADE_K, dash_top=0)

jk = alt.vconcat(pj, pk, spacing=0, bounds="flush")
chart = alt.vconcat(pa, pb, pc, pd_, pe, pf, pg, ph, pi, jk, spacing=11.4, bounds="flush").properties(
    padding={"left": 0, "top": 0, "right": 0, "bottom": 0})
chart = chart.configure_view(stroke="#333333", strokeWidth=1).configure_axis(
    labelFont=SANS, labelFontSize=11, labelColor="#222222", titleFont=SANS, titleFontSize=12,
    titleColor="#222222", tickColor="#444444")

chart.save("out.html", embed_options={"renderer": "svg", "actions": False})
